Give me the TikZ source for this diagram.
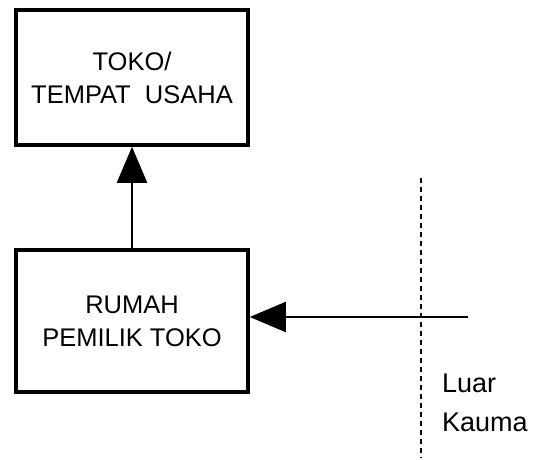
\documentclass[tikz,border=0pt]{standalone}
\usepackage{fontspec}
\setmainfont{Liberation Sans}
\usetikzlibrary{arrows.meta}
\begin{document}
\begin{tikzpicture}[x=1pt,y=-1pt,
  boxnode/.style={draw,line width=3.5pt,minimum width=232pt,align=center,
    font=\fontsize{25.5}{33}\selectfont,inner sep=0pt},
  flow/.style={line width=2pt,-{Triangle[length=36pt,width=30pt]}},
  border/.style={line width=2.8pt,dash pattern=on 5pt off 4pt},
  lbl/.style={font=\fontsize{27}{39}\selectfont,align=left,anchor=north west,inner sep=0pt}]
\useasboundingbox (0,0) rectangle (536,460);
\node[boxnode,minimum height=135pt] (toko) at (132,77.5) {TOKO/\\TEMPAT\ \ USAHA};
\node[boxnode,minimum height=142pt] (rumah) at (132,321) {RUMAH\\PEMILIK TOKO};
\draw[flow] (rumah.north) -- (toko.south);
\coordinate (start) at (468,317);
\draw[flow] (start) -- (rumah.east |- start);
\coordinate (dtop) at (421,178);
\coordinate (dbot) at (421,458);
\draw[border] (dtop) -- (dbot);
\node[lbl] (luar) at (442,374) {Luar\\Kauma};
\end{tikzpicture}
\end{document}
